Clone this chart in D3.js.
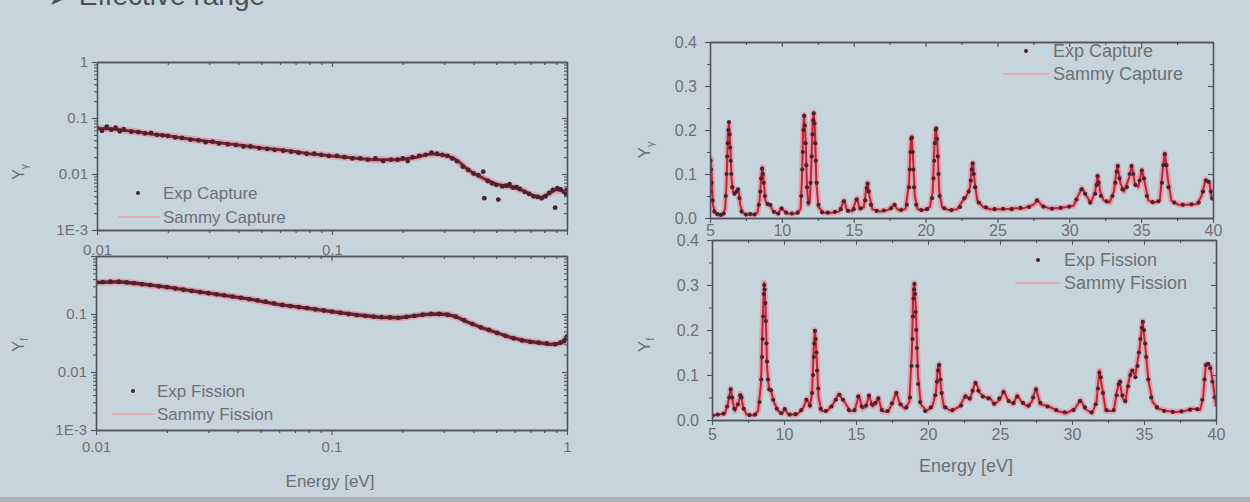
<!DOCTYPE html>
<html><head><meta charset="utf-8">
<script src="https://cdn.jsdelivr.net/npm/d3@7"></script>
<style>html,body{margin:0;padding:0;background:#c6d4dc;} svg{display:block}</style>
</head><body><svg id="c" width="1250" height="502"></svg>
<script>
// ---------- Axis ticks / labels ----------
const logXTicks = [0.01, 0.1, 1];
const logXLabelsTop = ["0.01", "0.1", ""];
const logXLabelsBottom = ["0.01", "0.1", "1"];
const logYTicks = [0.001, 0.01, 0.1, 1];
const logYLabelsTop = ["1E-3", "0.01", "0.1", "1"];
const logYLabelsBottom = ["1E-3", "0.01", "0.1", ""];
const linXTicks = [5, 10, 15, 20, 25, 30, 35, 40];
const linXLabels = ["5", "10", "15", "20", "25", "30", "35", "40"];
const linYTicks = [0, 0.1, 0.2, 0.3, 0.4];
const linYLabels = ["0.0", "0.1", "0.2", "0.3", "0.4"];

// ---------- Left: capture (0.01 - 1 eV) ----------
const capSammyLow = [[0.010,0.064],[0.011,0.065],[0.012,0.063],[0.0135,0.059],[0.015,0.056],[0.017,0.052],[0.02,0.048],[0.023,0.044],[0.026,0.041],[0.03,0.038],[0.035,0.035],[0.04,0.033],[0.045,0.031],[0.05,0.029],[0.06,0.027],[0.07,0.025],[0.08,0.023],[0.09,0.022],[0.1,0.021],[0.115,0.020],[0.13,0.019],[0.15,0.018],[0.17,0.018],[0.19,0.018],[0.21,0.019],[0.23,0.020],[0.25,0.022],[0.27,0.023],[0.29,0.022],[0.31,0.021],[0.33,0.019],[0.35,0.016],[0.38,0.0118],[0.41,0.0098],[0.45,0.0080],[0.5,0.0066],[0.55,0.0061],[0.6,0.0058],[0.66,0.0049],[0.72,0.0041],[0.78,0.0038],[0.84,0.0045],[0.9,0.0053],[0.95,0.0050],[1.0,0.0048]];
const capExpLow = [[0.0100,0.066],[0.0105,0.059],[0.0110,0.070],[0.0115,0.062],[0.0120,0.067],[0.0125,0.058],[0.0130,0.063],[0.0140,0.057],[0.0150,0.056],[0.0160,0.053],[0.0170,0.054],[0.0180,0.050],[0.0190,0.049],[0.0200,0.048],[0.0215,0.045],[0.0230,0.044],[0.0250,0.041],[0.0270,0.040],[0.0290,0.037],[0.0310,0.038],[0.0330,0.035],[0.0360,0.034],[0.0390,0.033],[0.0420,0.031],[0.0450,0.031],[0.0490,0.029],[0.0530,0.028],[0.0570,0.027],[0.0620,0.026],[0.0670,0.025],[0.0720,0.024],[0.0780,0.023],[0.0840,0.023],[0.0900,0.022],[0.0970,0.021],[0.1050,0.021],[0.1130,0.020],[0.1220,0.019],[0.1320,0.019],[0.1420,0.018],[0.1530,0.019],[0.1650,0.017],[0.1780,0.018],[0.1900,0.018],[0.2000,0.019],[0.2100,0.017],[0.2200,0.020],[0.2350,0.021],[0.2500,0.022],[0.2650,0.024],[0.2800,0.023],[0.2950,0.022],[0.3100,0.021],[0.325,0.019],[0.34,0.017],[0.36,0.0135],[0.38,0.0118],[0.40,0.0102],[0.42,0.0095],[0.44,0.0110],[0.445,0.0037],[0.46,0.0075],[0.48,0.0068],[0.50,0.0064],[0.51,0.0035],[0.53,0.0060],[0.55,0.0062],[0.57,0.0066],[0.59,0.0057],[0.61,0.0058],[0.63,0.0054],[0.66,0.0048],[0.69,0.0044],[0.72,0.0040],[0.75,0.0039],[0.78,0.0037],[0.81,0.0040],[0.84,0.0046],[0.87,0.0052],[0.89,0.0025],[0.91,0.0056],[0.94,0.0053],[0.97,0.0048],[0.99,0.0044],[1.0,0.0052]];

// ---------- Left: fission (0.01 - 1 eV) ----------
const fisSammyLow = [[0.010,0.35],[0.0125,0.36],[0.015,0.335],[0.02,0.29],[0.027,0.243],[0.035,0.21],[0.045,0.18],[0.06,0.145],[0.08,0.125],[0.1,0.11],[0.13,0.096],[0.16,0.088],[0.195,0.086],[0.22,0.092],[0.25,0.098],[0.28,0.100],[0.31,0.098],[0.34,0.089],[0.38,0.072],[0.43,0.059],[0.5,0.048],[0.57,0.040],[0.65,0.035],[0.76,0.032],[0.85,0.030],[0.92,0.031],[0.97,0.034],[1.0,0.041]];
const fisExpLow = [[0.0100,0.35],[0.0107,0.355],[0.0115,0.36],[0.0125,0.36],[0.0135,0.35],[0.0145,0.34],[0.0157,0.325],[0.017,0.315],[0.0185,0.30],[0.02,0.29],[0.0217,0.275],[0.0235,0.262],[0.0255,0.25],[0.0277,0.238],[0.03,0.228],[0.0325,0.218],[0.035,0.21],[0.038,0.2],[0.0412,0.19],[0.0447,0.18],[0.0485,0.172],[0.0525,0.163],[0.057,0.152],[0.0618,0.143],[0.067,0.137],[0.0727,0.131],[0.0788,0.126],[0.0855,0.12],[0.0927,0.115],[0.1005,0.11],[0.109,0.105],[0.118,0.1],[0.128,0.096],[0.139,0.093],[0.151,0.09],[0.163,0.088],[0.177,0.087],[0.192,0.086],[0.208,0.089],[0.225,0.093],[0.244,0.097],[0.265,0.1],[0.287,0.1],[0.311,0.097],[0.337,0.09],[0.366,0.078],[0.397,0.067],[0.43,0.059],[0.466,0.053],[0.505,0.047],[0.548,0.042],[0.594,0.038],[0.644,0.035],[0.698,0.033],[0.757,0.032],[0.82,0.031],[0.89,0.03],[0.94,0.032],[0.97,0.034],[0.99,0.038],[1.0,0.041]];

// ---------- Right: capture (5 - 40 eV) ----------
const capSammyRes = [[5.00,0.020],[5.05,0.135],[5.12,0.10],[5.2,0.03],[5.35,0.012],[5.6,0.008],[5.9,0.008],[6.05,0.02],[6.15,0.08],[6.25,0.19],[6.32,0.215],[6.4,0.17],[6.5,0.09],[6.6,0.06],[6.75,0.055],[6.9,0.065],[7.0,0.06],[7.1,0.03],[7.25,0.012],[7.6,0.008],[8.0,0.008],[8.3,0.012],[8.45,0.04],[8.58,0.10],[8.65,0.115],[8.75,0.08],[8.85,0.04],[9.0,0.03],[9.2,0.028],[9.4,0.015],[9.7,0.01],[9.95,0.02],[10.1,0.018],[10.4,0.01],[11.0,0.01],[11.3,0.02],[11.4,0.09],[11.48,0.2],[11.55,0.235],[11.65,0.18],[11.75,0.07],[11.85,0.03],[11.95,0.04],[12.05,0.12],[12.15,0.22],[12.22,0.24],[12.3,0.2],[12.4,0.08],[12.55,0.025],[12.9,0.012],[13.5,0.012],[14.0,0.015],[14.2,0.03],[14.35,0.04],[14.5,0.02],[14.9,0.015],[15.1,0.035],[15.25,0.045],[15.4,0.02],[15.7,0.025],[15.85,0.06],[15.95,0.08],[16.1,0.05],[16.3,0.02],[16.8,0.015],[17.4,0.018],[17.8,0.03],[18.1,0.018],[18.6,0.02],[18.85,0.08],[18.95,0.16],[19.03,0.185],[19.12,0.14],[19.25,0.05],[19.45,0.02],[19.9,0.018],[20.3,0.025],[20.5,0.06],[20.62,0.17],[20.72,0.205],[20.82,0.17],[20.95,0.06],[21.15,0.025],[21.6,0.018],[22.2,0.02],[22.6,0.04],[22.85,0.05],[23.1,0.07],[23.22,0.12],[23.3,0.125],[23.42,0.08],[23.6,0.04],[24.0,0.025],[24.5,0.02],[25.5,0.02],[26.3,0.022],[26.8,0.022],[27.5,0.03],[27.8,0.04],[28.1,0.028],[28.6,0.022],[29.2,0.022],[29.8,0.025],[30.3,0.028],[30.6,0.05],[30.9,0.068],[31.2,0.05],[31.5,0.035],[31.8,0.06],[31.98,0.097],[32.15,0.06],[32.4,0.04],[32.8,0.035],[33.1,0.06],[33.35,0.12],[33.55,0.08],[33.8,0.06],[34.15,0.09],[34.35,0.12],[34.55,0.08],[34.8,0.07],[35.05,0.11],[35.25,0.08],[35.5,0.04],[35.9,0.035],[36.3,0.04],[36.5,0.11],[36.65,0.148],[36.85,0.09],[37.1,0.04],[37.6,0.03],[38.3,0.03],[38.9,0.032],[39.2,0.05],[39.5,0.088],[39.75,0.08],[39.9,0.05],[40.0,0.04]];
const capExpRes = [[5.02,0.06],[5.04,0.13],[5.07,0.11],[5.12,0.08],[5.18,0.04],[5.3,0.015],[5.5,0.009],[5.75,0.007],[5.95,0.01],[6.1,0.05],[6.15,0.1],[6.2,0.14],[6.24,0.17],[6.28,0.2],[6.32,0.218],[6.36,0.19],[6.4,0.16],[6.44,0.13],[6.48,0.1],[6.55,0.07],[6.7,0.055],[6.85,0.06],[6.95,0.065],[7.05,0.045],[7.2,0.015],[7.5,0.008],[7.8,0.009],[8.1,0.008],[8.4,0.03],[8.5,0.06],[8.56,0.09],[8.62,0.112],[8.68,0.1],[8.74,0.08],[8.82,0.05],[9.0,0.032],[9.2,0.03],[9.45,0.014],[9.75,0.01],[9.98,0.022],[10.3,0.012],[10.7,0.01],[11.1,0.012],[11.35,0.05],[11.42,0.11],[11.46,0.15],[11.5,0.2],[11.55,0.232],[11.6,0.21],[11.65,0.17],[11.7,0.12],[11.75,0.07],[11.85,0.035],[12.0,0.08],[12.08,0.14],[12.13,0.19],[12.18,0.222],[12.22,0.238],[12.27,0.215],[12.32,0.17],[12.36,0.13],[12.42,0.08],[12.55,0.03],[12.8,0.013],[13.2,0.012],[13.7,0.014],[14.1,0.02],[14.3,0.038],[14.6,0.016],[15.0,0.02],[15.2,0.042],[15.5,0.022],[15.8,0.04],[15.9,0.068],[15.97,0.078],[16.05,0.06],[16.2,0.03],[16.6,0.016],[17.1,0.017],[17.6,0.022],[17.85,0.03],[18.3,0.018],[18.7,0.03],[18.85,0.07],[18.9,0.11],[18.95,0.15],[19.0,0.18],[19.05,0.183],[19.1,0.15],[19.15,0.11],[19.2,0.07],[19.35,0.03],[19.7,0.018],[20.1,0.02],[20.45,0.045],[20.55,0.09],[20.6,0.13],[20.65,0.17],[20.7,0.2],[20.74,0.203],[20.8,0.18],[20.85,0.14],[20.9,0.1],[20.98,0.05],[21.3,0.022],[21.8,0.018],[22.4,0.025],[22.7,0.045],[23.0,0.06],[23.15,0.085],[23.22,0.11],[23.28,0.124],[23.35,0.1],[23.45,0.07],[23.7,0.035],[24.2,0.024],[24.8,0.02],[25.4,0.021],[26.0,0.02],[26.6,0.023],[27.2,0.025],[27.75,0.04],[28.2,0.026],[28.8,0.021],[29.4,0.023],[30.0,0.026],[30.5,0.042],[30.85,0.065],[31.1,0.055],[31.45,0.035],[31.8,0.055],[31.9,0.075],[31.97,0.095],[32.05,0.08],[32.2,0.05],[32.6,0.038],[33.0,0.05],[33.2,0.08],[33.3,0.105],[33.38,0.118],[33.5,0.09],[33.7,0.065],[34.0,0.07],[34.2,0.1],[34.33,0.118],[34.45,0.1],[34.6,0.075],[34.9,0.085],[35.05,0.108],[35.2,0.09],[35.4,0.05],[35.8,0.036],[36.2,0.038],[36.45,0.08],[36.55,0.12],[36.65,0.145],[36.75,0.12],[36.9,0.07],[37.3,0.035],[37.9,0.03],[38.5,0.031],[39.0,0.035],[39.3,0.06],[39.5,0.085],[39.7,0.082],[39.85,0.06],[39.95,0.045]];

// ---------- Right: fission (5 - 40 eV) ----------
const fisSammyRes = [[5.0,0.01],[5.5,0.012],[5.9,0.015],[6.1,0.035],[6.3,0.07],[6.45,0.04],[6.6,0.02],[6.85,0.04],[7.0,0.058],[7.15,0.03],[7.4,0.012],[7.9,0.01],[8.2,0.02],[8.4,0.08],[8.52,0.22],[8.62,0.305],[8.72,0.25],[8.82,0.12],[8.95,0.07],[9.1,0.065],[9.3,0.04],[9.6,0.02],[9.9,0.015],[10.05,0.025],[10.3,0.012],[10.9,0.012],[11.3,0.025],[11.6,0.047],[11.8,0.03],[11.95,0.06],[12.08,0.17],[12.15,0.2],[12.25,0.15],[12.4,0.05],[12.6,0.02],[13.0,0.02],[13.4,0.035],[13.8,0.058],[14.2,0.04],[14.6,0.02],[14.9,0.02],[15.2,0.055],[15.45,0.025],[15.7,0.03],[15.9,0.055],[16.15,0.03],[16.35,0.035],[16.55,0.05],[16.8,0.02],[17.2,0.018],[17.5,0.035],[17.8,0.062],[18.05,0.035],[18.4,0.025],[18.7,0.04],[18.88,0.15],[18.98,0.29],[19.05,0.305],[19.15,0.25],[19.3,0.1],[19.5,0.035],[19.9,0.02],[20.3,0.03],[20.55,0.06],[20.7,0.12],[20.78,0.125],[20.9,0.07],[21.1,0.03],[21.6,0.02],[22.2,0.03],[22.6,0.055],[22.9,0.045],[23.3,0.085],[23.6,0.06],[24.0,0.05],[24.3,0.05],[24.6,0.035],[25.0,0.045],[25.25,0.065],[25.55,0.045],[25.9,0.035],[26.2,0.055],[26.5,0.04],[26.9,0.03],[27.2,0.04],[27.5,0.07],[27.8,0.035],[28.4,0.03],[29.0,0.02],[29.6,0.015],[30.2,0.025],[30.6,0.045],[30.9,0.025],[31.4,0.015],[31.7,0.04],[31.9,0.11],[32.1,0.07],[32.35,0.02],[32.9,0.02],[33.1,0.06],[33.3,0.088],[33.5,0.05],[33.7,0.04],[33.9,0.08],[34.1,0.11],[34.4,0.1],[34.7,0.16],[34.9,0.22],[35.1,0.16],[35.3,0.09],[35.6,0.04],[36.0,0.025],[36.6,0.02],[37.2,0.018],[37.8,0.02],[38.4,0.025],[38.9,0.022],[39.1,0.05],[39.3,0.125],[39.6,0.12],[39.8,0.08],[40.0,0.03]];
const fisExpRes = [[5.05,0.01],[5.4,0.012],[5.8,0.014],[6.05,0.03],[6.2,0.05],[6.3,0.068],[6.4,0.05],[6.55,0.025],[6.8,0.035],[6.95,0.055],[7.05,0.05],[7.2,0.025],[7.6,0.011],[8.0,0.012],[8.3,0.04],[8.42,0.09],[8.48,0.14],[8.52,0.18],[8.56,0.23],[8.6,0.28],[8.63,0.3],[8.66,0.29],[8.7,0.26],[8.74,0.22],[8.78,0.17],[8.82,0.13],[8.88,0.09],[8.98,0.068],[9.1,0.066],[9.25,0.045],[9.5,0.025],[9.8,0.015],[10.05,0.024],[10.4,0.012],[10.8,0.013],[11.2,0.022],[11.55,0.045],[11.8,0.032],[11.95,0.06],[12.02,0.1],[12.07,0.14],[12.11,0.17],[12.15,0.198],[12.2,0.18],[12.25,0.15],[12.3,0.11],[12.38,0.07],[12.55,0.025],[12.9,0.02],[13.3,0.03],[13.6,0.045],[13.85,0.056],[14.1,0.045],[14.5,0.022],[14.9,0.022],[15.15,0.052],[15.4,0.03],[15.7,0.032],[15.9,0.054],[16.1,0.035],[16.35,0.038],[16.55,0.048],[16.8,0.022],[17.2,0.02],[17.5,0.037],[17.8,0.06],[18.1,0.035],[18.5,0.028],[18.75,0.05],[18.86,0.12],[18.92,0.18],[18.96,0.23],[19.0,0.27],[19.03,0.29],[19.06,0.302],[19.1,0.28],[19.14,0.24],[19.18,0.2],[19.22,0.16],[19.26,0.12],[19.32,0.08],[19.45,0.04],[19.8,0.02],[20.2,0.028],[20.5,0.055],[20.62,0.085],[20.7,0.11],[20.78,0.122],[20.86,0.09],[20.95,0.06],[21.2,0.028],[21.7,0.022],[22.3,0.032],[22.6,0.052],[22.9,0.048],[23.1,0.065],[23.3,0.082],[23.5,0.065],[23.8,0.052],[24.2,0.048],[24.6,0.036],[24.95,0.048],[25.25,0.062],[25.6,0.042],[25.95,0.038],[26.2,0.052],[26.6,0.038],[27.0,0.032],[27.3,0.05],[27.5,0.068],[27.8,0.038],[28.3,0.03],[28.9,0.022],[29.5,0.017],[30.1,0.022],[30.55,0.042],[30.9,0.028],[31.35,0.017],[31.65,0.035],[31.8,0.07],[31.9,0.105],[32.0,0.095],[32.15,0.06],[32.4,0.022],[32.9,0.022],[33.1,0.055],[33.25,0.08],[33.35,0.085],[33.5,0.055],[33.7,0.042],[33.9,0.075],[34.05,0.1],[34.2,0.11],[34.4,0.095],[34.55,0.12],[34.65,0.15],[34.75,0.18],[34.85,0.205],[34.92,0.218],[35.0,0.2],[35.08,0.17],[35.15,0.14],[35.3,0.09],[35.5,0.05],[35.9,0.028],[36.4,0.02],[37.0,0.018],[37.6,0.019],[38.2,0.023],[38.7,0.024],[39.05,0.045],[39.2,0.09],[39.3,0.122],[39.45,0.125],[39.6,0.115],[39.75,0.085],[39.9,0.05]];

// ---------- Drawing ----------
const svg = d3.select("#c");
const FONT = "Liberation Sans, Arial, sans-serif";
const AXC = "#4e545a", TXC = "#6c7176";

svg.append("rect").attr("x",0).attr("y",0).attr("width",1250).attr("height",502).attr("fill","#c6d4dc");
svg.append("rect").attr("x",0).attr("y",497).attr("width",1250).attr("height",5).attr("fill","#a7b3ba");
svg.append("text").attr("x",48).attr("y",5).attr("font-family",FONT).attr("font-size",28)
  .attr("fill","#4a5056").text("\u27A4 Effective range");

let clipN = 0;
function panel(o) {
  const g = svg.append("g");
  const x = (o.log ? d3.scaleLog() : d3.scaleLinear()).domain(o.xd).range([o.x0, o.x1]);
  const y = (o.log ? d3.scaleLog() : d3.scaleLinear()).domain(o.yd).range([o.y1, o.y0]);
  const id = "clip" + (clipN++);
  g.append("clipPath").attr("id", id).append("rect")
    .attr("x", o.x0).attr("y", o.y0).attr("width", o.x1 - o.x0).attr("height", o.y1 - o.y0);
  const plot = g.append("g").attr("clip-path", `url(#${id})`);
  const line = d3.line().x(d => x(d[0])).y(d => y(d[1]));
  plot.append("path").datum(o.sammy).attr("d", line).attr("fill","none")
    .attr("stroke","#e88c98").attr("stroke-width",o.halo).attr("stroke-opacity",0.65).attr("stroke-linejoin","round");
  plot.append("path").datum(o.sammy).attr("d", line).attr("fill","none")
    .attr("stroke",o.core).attr("stroke-width",o.coreW).attr("stroke-linejoin","round");
  plot.selectAll("circle").data(o.exp).join("circle")
    .attr("cx", d => x(d[0])).attr("cy", d => y(d[1])).attr("r", o.r).attr("fill","#44252f");

  const style = sel => {
    sel.selectAll(".domain").attr("stroke", AXC).attr("stroke-width", 1.3);
    sel.selectAll(".tick line").attr("stroke", AXC).attr("stroke-width", 1.1);
    sel.selectAll("text").attr("fill", TXC).attr("font-family", FONT).attr("font-size", o.fs);
  };
  const xMinor = o.log ? x.ticks().filter(v => !o.xTicks.includes(v)) : o.xMinor;
  const yMinor = o.log ? y.ticks().filter(v => !o.yTicks.some(t => Math.abs(t - v) < 1e-9)) : o.yMinor;
  const add = (gen, tx, ty) => g.append("g").attr("transform", `translate(${tx},${ty})`).call(gen).call(style);

  add(d3.axisLeft(y).tickValues(yMinor).tickSize(3).tickSizeOuter(0).tickFormat(""), o.x0, 0);
  add(d3.axisLeft(y).tickValues(o.yTicks).tickSize(5).tickSizeOuter(0).tickPadding(o.yPad)
      .tickFormat((d, i) => o.yLabels[i]), o.x0, 0);
  add(d3.axisRight(y).tickValues(yMinor).tickSize(-3).tickSizeOuter(0).tickFormat(""), o.x1, 0);
  add(d3.axisRight(y).tickValues(o.yTicks).tickSize(-5).tickSizeOuter(0).tickFormat(""), o.x1, 0);
  add(d3.axisTop(x).tickValues(xMinor).tickSize(-3).tickSizeOuter(0).tickFormat(""), 0, o.y0);
  add(d3.axisTop(x).tickValues(o.xTicks).tickSize(-5).tickSizeOuter(0).tickFormat(""), 0, o.y0);
  add(d3.axisBottom(x).tickValues(xMinor).tickSize(3).tickSizeOuter(0).tickFormat(""), 0, o.y1);
  add(d3.axisBottom(x).tickValues(o.xTicks).tickSize(5).tickSizeOuter(0).tickPadding(o.xPad)
      .tickFormat((d, i) => o.xLabels[i]), 0, o.y1);

  // y-axis title
  const yt = g.append("text").attr("transform", `translate(${o.ylx},${o.yly}) rotate(-90)`)
    .attr("text-anchor","middle").attr("font-family",FONT).attr("font-size",o.fs+1).attr("fill",TXC);
  yt.append("tspan").text("Y");
  yt.append("tspan").attr("font-size", o.fs - 5).attr("dy", 4).text(o.sub);

  if (o.xTitle) {
    g.append("text").attr("x", o.xTitle[0]).attr("y", o.xTitle[1]).attr("text-anchor","middle")
      .attr("font-family",FONT).attr("font-size",o.fs+2).attr("fill",TXC).text("Energy [eV]");
  }
  // legend
  const L = o.leg;
  g.append("circle").attr("cx", L.dx).attr("cy", L.y1).attr("r", 2).attr("fill","#44252f");
  g.append("line").attr("x1", L.lx0).attr("x2", L.lx1).attr("y1", L.y2).attr("y2", L.y2)
    .attr("stroke","#e6aab2").attr("stroke-width",2);
  [[L.t1, L.y1], [L.t2, L.y2]].forEach(([t, yy]) => {
    g.append("text").attr("x", L.tx).attr("y", yy).attr("dy","0.35em")
      .attr("font-family",FONT).attr("font-size",L.fs).attr("fill",TXC).text(t);
  });
}

panel({log:true, xd:[0.01,1], yd:[0.001,1], x0:97, x1:567, y0:62, y1:230,
  sammy:capSammyLow, exp:capExpLow, r:2.4, fs:15, halo:7, core:"#7c2232", coreW:3,
  xTicks:logXTicks, xLabels:logXLabelsTop, yTicks:logYTicks, yLabels:logYLabelsTop, xPad:9, yPad:4,
  ylx:24, yly:172, sub:"\u03B3",
  leg:{dx:138, tx:163, y1:193, y2:217, lx0:118, lx1:160, t1:"Exp Capture", t2:"Sammy Capture", fs:17}});

panel({log:true, xd:[0.01,1], yd:[0.001,1], x0:96, x1:567, y0:256, y1:430,
  sammy:fisSammyLow, exp:fisExpLow, r:2.4, fs:15, halo:7, core:"#6e2030", coreW:3.4,
  xTicks:logXTicks, xLabels:logXLabelsBottom, yTicks:logYTicks, yLabels:logYLabelsBottom, xPad:6, yPad:4,
  ylx:24, yly:345, sub:"f", xTitle:[330,487],
  leg:{dx:133, tx:157, y1:391, y2:414, lx0:112, lx1:155, t1:"Exp Fission", t2:"Sammy Fission", fs:17}});

panel({log:false, xd:[5,40], yd:[0,0.4], x0:710, x1:1213, y0:42, y1:218,
  sammy:capSammyRes, exp:capExpRes, r:2.1, fs:16, halo:6, core:"#c62236", coreW:2,
  xTicks:linXTicks, xLabels:linXLabels, xMinor:[7.5,12.5,17.5,22.5,27.5,32.5,37.5],
  yTicks:linYTicks, yLabels:linYLabels, yMinor:[0.05,0.15,0.25,0.35], xPad:2, yPad:8,
  ylx:650, yly:150, sub:"\u03B3",
  leg:{dx:1026, tx:1053, y1:51, y2:74, lx0:1003, lx1:1050, t1:"Exp Capture", t2:"Sammy Capture", fs:18}});

panel({log:false, xd:[5,40], yd:[0,0.4], x0:712, x1:1216, y0:240, y1:420,
  sammy:fisSammyRes, exp:fisExpRes, r:2.1, fs:16, halo:6, core:"#c62236", coreW:2,
  xTicks:linXTicks, xLabels:linXLabels, xMinor:[7.5,12.5,17.5,22.5,27.5,32.5,37.5],
  yTicks:linYTicks, yLabels:linYLabels, yMinor:[0.05,0.15,0.25,0.35], xPad:4, yPad:8,
  ylx:650, yly:345, sub:"f", xTitle:[966,472],
  leg:{dx:1038, tx:1064, y1:260, y2:283, lx0:1015, lx1:1060, t1:"Exp Fission", t2:"Sammy Fission", fs:18}});
</script></body></html>
